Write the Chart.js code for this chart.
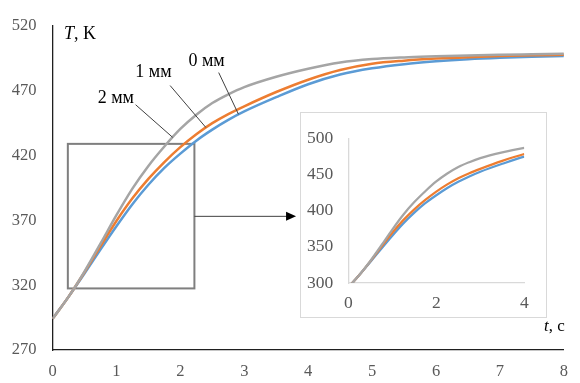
<!DOCTYPE html>
<html>
<head>
<meta charset="utf-8">
<script src="https://cdn.jsdelivr.net/npm/chart.js@4.4.1/dist/chart.umd.min.js"></script>
<style>
  html, body { margin: 0; padding: 0; background: #fff; }
  #wrap { position: relative; width: 580px; height: 383px; }
  #inset {
    position: absolute; left: 300px; top: 112px; width: 247px; height: 206px;
    box-sizing: border-box; border: 1px solid #d9d9d9; background: #fff;
  }
  canvas { display: block; }
</style>
</head>
<body>
<div id="wrap">
  <canvas id="mainChart" width="580" height="383"></canvas>
  <div id="inset"><canvas id="insetChart" width="245" height="204"></canvas></div>
</div>
<script>
// time, s
const timeS = [0, 0.25, 0.5, 0.75, 1, 1.25, 1.5, 1.75, 2, 2.25, 2.5, 2.75, 3, 3.5, 4, 4.5, 5, 5.5, 6, 6.5, 7, 7.5, 8];
// temperature, K
const temp2mm = [294, 311, 330.5, 352, 374, 394.5, 412, 427, 440.5, 451.5, 460.5, 467.2, 472.8, 480.8, 487, 491.8, 494.4, 495.7, 496.5, 497.2, 497.7, 498.1, 498.5];
const temp1mm = [294, 311, 330, 350, 369.5, 387, 402, 415, 426.5, 436.5, 445, 452, 458, 469, 478.5, 486, 490.8, 493.2, 494.8, 495.9, 496.7, 497.3, 497.7];
const temp0mm = [294, 311, 329, 347.5, 365.5, 382.5, 397.5, 410.5, 421.5, 431.5, 440, 447.5, 454, 465, 475, 482.5, 487.3, 490.5, 492.7, 494.3, 495.4, 496.2, 496.8];

const seriesNames = ["2 мм", "1 мм", "0 мм"];
const seriesColors = ["#a5a5a5", "#ed7d31", "#5b9bd5"];

const xTicksMain = [0, 1, 2, 3, 4, 5, 6, 7, 8];
const yTicksMain = [270, 320, 370, 420, 470, 520];
const xTicksInset = [0, 2, 4];
const yTicksInset = [300, 350, 400, 450, 500];

const SERIF = "'Liberation Serif', 'Times New Roman', serif";
const TICK_COLOR = "#595959";

const toPts = vals => timeS.map((t, i) => ({ x: t, y: vals[i] }));
const allSeries = [temp2mm, temp1mm, temp0mm];

const makeDatasets = width => allSeries.map((vals, i) => ({
  label: seriesNames[i],
  data: toPts(vals),
  borderColor: seriesColors[i],
  borderWidth: width,
  pointRadius: 0,
  cubicInterpolationMode: "monotone",
  fill: false,
}));

// Annotations in data units (t, T)
const zoomBox = { t0: 0.24, t1: 2.22, T0: 317.5, T1: 429 };
const arrow = { t0: 2.22, t1: 3.81, T: 373.1 };
const curveLabels = [
  { text: seriesNames[0], t: 0.99, T: 463.9, from: [1.30, 459.2], to: [1.88, 434.0] },
  { text: seriesNames[1], t: 1.58, T: 484.0, from: [1.84, 474.0], to: [2.40, 441.6] },
  { text: seriesNames[2], t: 2.41, T: 493.0, from: [2.60, 484.0], to: [2.91, 451.8] },
];

const fixedTicks = list => scale => { scale.ticks = list.map(v => ({ value: v })); };

const overlayPlugin = {
  id: "overlay",
  beforeDatasetsDraw(chart) {
    const { ctx, scales: { x, y } } = chart;
    ctx.save();
    ctx.strokeStyle = "#7f7f7f";
    ctx.lineWidth = 2;
    const l = x.getPixelForValue(zoomBox.t0), r = x.getPixelForValue(zoomBox.t1);
    const t = y.getPixelForValue(zoomBox.T1), b = y.getPixelForValue(zoomBox.T0);
    ctx.strokeRect(l, t, r - l, b - t);
    ctx.restore();
  },
  afterDatasetsDraw(chart) {
    const { ctx, chartArea, scales: { x, y } } = chart;
    ctx.save();

    // leader lines + curve labels
    ctx.strokeStyle = "#404040";
    ctx.lineWidth = 1;
    ctx.fillStyle = "#000";
    ctx.font = "18px " + SERIF;
    ctx.textAlign = "center";
    ctx.textBaseline = "middle";
    curveLabels.forEach(c => {
      ctx.beginPath();
      ctx.moveTo(x.getPixelForValue(c.from[0]), y.getPixelForValue(c.from[1]));
      ctx.lineTo(x.getPixelForValue(c.to[0]), y.getPixelForValue(c.to[1]));
      ctx.stroke();
      ctx.fillText(c.text, x.getPixelForValue(c.t), y.getPixelForValue(c.T));
    });

    // arrow from zoom box to inset
    const ay = y.getPixelForValue(arrow.T);
    const ax0 = x.getPixelForValue(arrow.t0), ax1 = x.getPixelForValue(arrow.t1);
    ctx.beginPath();
    ctx.moveTo(ax0, ay);
    ctx.lineTo(ax1 - 8, ay);
    ctx.stroke();
    ctx.fillStyle = "#000";
    ctx.beginPath();
    ctx.moveTo(ax1, ay);
    ctx.lineTo(ax1 - 10, ay - 4.5);
    ctx.lineTo(ax1 - 10, ay + 4.5);
    ctx.closePath();
    ctx.fill();

    // axis titles
    ctx.textAlign = "left";
    ctx.font = "italic 18px " + SERIF;
    let tx = chartArea.left + 11.5;
    const ty = chartArea.top + 8;
    ctx.fillText("T", tx, ty);
    tx += ctx.measureText("T").width;
    ctx.font = "18px " + SERIF;
    ctx.fillText(", K", tx, ty);

    ctx.textAlign = "right";
    const cx = chartArea.right + 1, cy = chartArea.bottom - 23;
    ctx.font = "17px " + SERIF;
    const tail = ", c";
    ctx.fillText(tail, cx, cy);
    const tw = ctx.measureText(tail).width;
    ctx.font = "italic 17px " + SERIF;
    ctx.fillText("t", cx - tw, cy);

    ctx.restore();
  },
};

new Chart(document.getElementById("mainChart"), {
  type: "line",
  data: { datasets: makeDatasets(2.5) },
  plugins: [overlayPlugin],
  options: {
    responsive: false,
    animation: false,
    events: [],
    layout: { padding: { top: 17, right: 8, left: 0, bottom: 0 } },
    plugins: { legend: { display: false }, tooltip: { enabled: false } },
    scales: {
      x: {
        type: "linear", min: 0, max: 8,
        afterBuildTicks: fixedTicks(xTicksMain),
        afterFit: s => { s.height = 33; },
        grid: { display: false, drawTicks: false },
        border: { display: true, color: "#1f1f1f", width: 1.3 },
        ticks: { color: TICK_COLOR, padding: 12, maxRotation: 0, font: { family: SERIF, size: 16.5 } },
      },
      y: {
        type: "linear", min: 270, max: 520,
        afterBuildTicks: fixedTicks(yTicksMain),
        afterFit: s => { s.width = 52.5; },
        grid: { display: false, drawTicks: false },
        border: { display: true, color: "#1f1f1f", width: 1.3 },
        ticks: { color: TICK_COLOR, padding: 16, font: { family: SERIF, size: 16.5 } },
      },
    },
  },
});

const insetSets = makeDatasets(2.25).map(d => ({ ...d, clip: 0 }));

new Chart(document.getElementById("insetChart"), {
  type: "line",
  data: { datasets: insetSets },
  options: {
    responsive: false,
    animation: false,
    events: [],
    layout: { padding: { top: 13.7, right: 21.7, left: 0, bottom: 0 } },
    plugins: { legend: { display: false }, tooltip: { enabled: false } },
    scales: {
      x: {
        type: "linear", min: 0, max: 4,
        afterBuildTicks: fixedTicks(xTicksInset),
        afterFit: s => { s.height = 34; },
        grid: { display: false, drawTicks: false },
        border: { display: true, color: "#d9d9d9", width: 1.3 },
        ticks: { color: TICK_COLOR, padding: 10, maxRotation: 0, font: { family: SERIF, size: 17.5 } },
      },
      y: {
        type: "linear", min: 300, max: 500,
        afterBuildTicks: fixedTicks(yTicksInset),
        afterFit: s => { s.width = 47.3; },
        grid: { display: false, drawTicks: false },
        border: { display: true, color: "#d9d9d9", width: 1.3 },
        ticks: { color: TICK_COLOR, padding: 15, font: { family: SERIF, size: 17.5 } },
      },
    },
  },
});
</script>
</body>
</html>
